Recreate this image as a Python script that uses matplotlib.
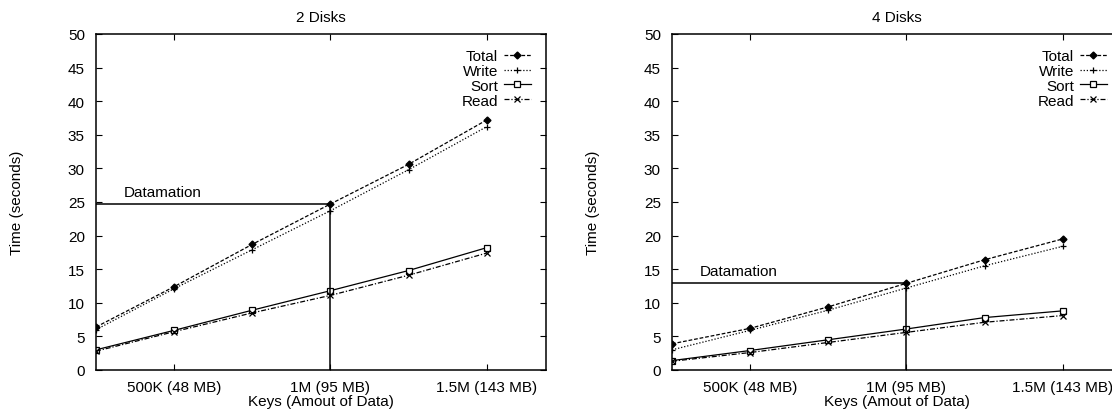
import matplotlib
matplotlib.use("Agg")
import matplotlib.pyplot as plt

plt.rcParams['font.family'] = ['Liberation Sans', 'DejaVu Sans']
plt.rcParams['font.size'] = 11

# Number of keys (millions)
keys_m = [0.25, 0.5, 0.75, 1.0, 1.25, 1.5]
tick_pos = [0.5, 1.0, 1.5]
tick_labels = ["500K (48 MB)", "1M (95 MB)", "1.5M (143 MB)"]

# 2 disks (seconds)
total_2 = [6.4, 12.4, 18.7, 24.7, 30.6, 37.2]
write_2 = [6.0, 12.1, 17.9, 23.7, 29.8, 36.2]
sort_2 = [3.0, 5.9, 8.9, 11.8, 14.8, 18.2]
read_2 = [2.8, 5.7, 8.5, 11.1, 14.1, 17.4]
datamation_2 = 24.7

# 4 disks (seconds)
total_4 = [3.9, 6.2, 9.4, 12.9, 16.4, 19.5]
write_4 = [3.0, 5.9, 8.9, 12.2, 15.5, 18.4]
sort_4 = [1.4, 2.9, 4.5, 6.1, 7.8, 8.8]
read_4 = [1.3, 2.6, 4.1, 5.6, 7.1, 8.1]
datamation_4 = 12.9

series_names = ["Total", "Write", "Sort", "Read"]

styles = [
    dict(linestyle=(0, (3, 1.5)), marker='D', markersize=3.5, mfc='black', mec='black'),
    dict(linestyle=(0, (1, 1.5)), marker='+', markersize=5, mec='black', mew=0.9),
    dict(linestyle='-', marker='s', markersize=4, mfc='white', mec='black', mew=0.9),
    dict(linestyle=(0, (4, 1.5, 1, 1.5)), marker='x', markersize=4, mec='black', mew=0.9),
]

fig = plt.figure(figsize=(11.12, 4.10), dpi=100)

W, H = 1112, 410
ax_w = 450 / W
ax_b = (H - 371) / H
ax_h = (371 - 35) / H

axes = [fig.add_axes([96 / W, ax_b, ax_w, ax_h]),
        fig.add_axes([672 / W, ax_b, ax_w, ax_h])]

panels = [
    ("2 Disks", [total_2, write_2, sort_2, read_2], datamation_2),
    ("4 Disks", [total_4, write_4, sort_4, read_4], datamation_4),
]

for ax, (title, data, dm) in zip(axes, panels):
    handles = []
    for vals, st, name in zip(data, styles, series_names):
        h, = ax.plot(keys_m, vals, color='black', linewidth=0.9, label=name, **st)
        handles.append(h)
    # Datamation reference lines
    ax.plot([0.25, 1.0], [dm, dm], color='black', linewidth=1.1)
    ax.plot([1.0, 1.0], [0, dm], color='black', linewidth=1.1)
    ax.text(0.34, dm + 1.8, "Datamation", ha='left', va='center', fontsize=11)

    ax.set_xlim(0.25, 1.69)
    ax.set_ylim(0, 50)
    ax.set_xticks(tick_pos)
    ax.set_xticklabels(tick_labels)
    ax.set_yticks(range(0, 51, 5))
    ax.tick_params(direction='in', length=4, width=0.8, top=True, right=True,
                   labelsize=11)
    ax.tick_params(axis='y', pad=8)
    ax.tick_params(axis='x', pad=7)
    for sp in ax.spines.values():
        sp.set_linewidth(1.1)
    ax.set_title(title, fontsize=11, pad=9)
    ax.set_xlabel("Keys (Amout of Data)", fontsize=11, labelpad=0.5)
    ax.set_ylabel("Time (seconds)", fontsize=11)
    ax.yaxis.set_label_coords(-72 / 450, 0.5)

    leg = ax.legend(handles=handles, loc='upper right', bbox_to_anchor=(1.0, 1.0),
                    markerfirst=False, frameon=False, fontsize=11,
                    handlelength=1.75, handletextpad=0.4, labelspacing=0.05,
                    borderpad=0.4, borderaxespad=0.6)
    for t in leg.get_texts():
        t.set_ha('right')

fig.savefig("out.png", dpi=100)
